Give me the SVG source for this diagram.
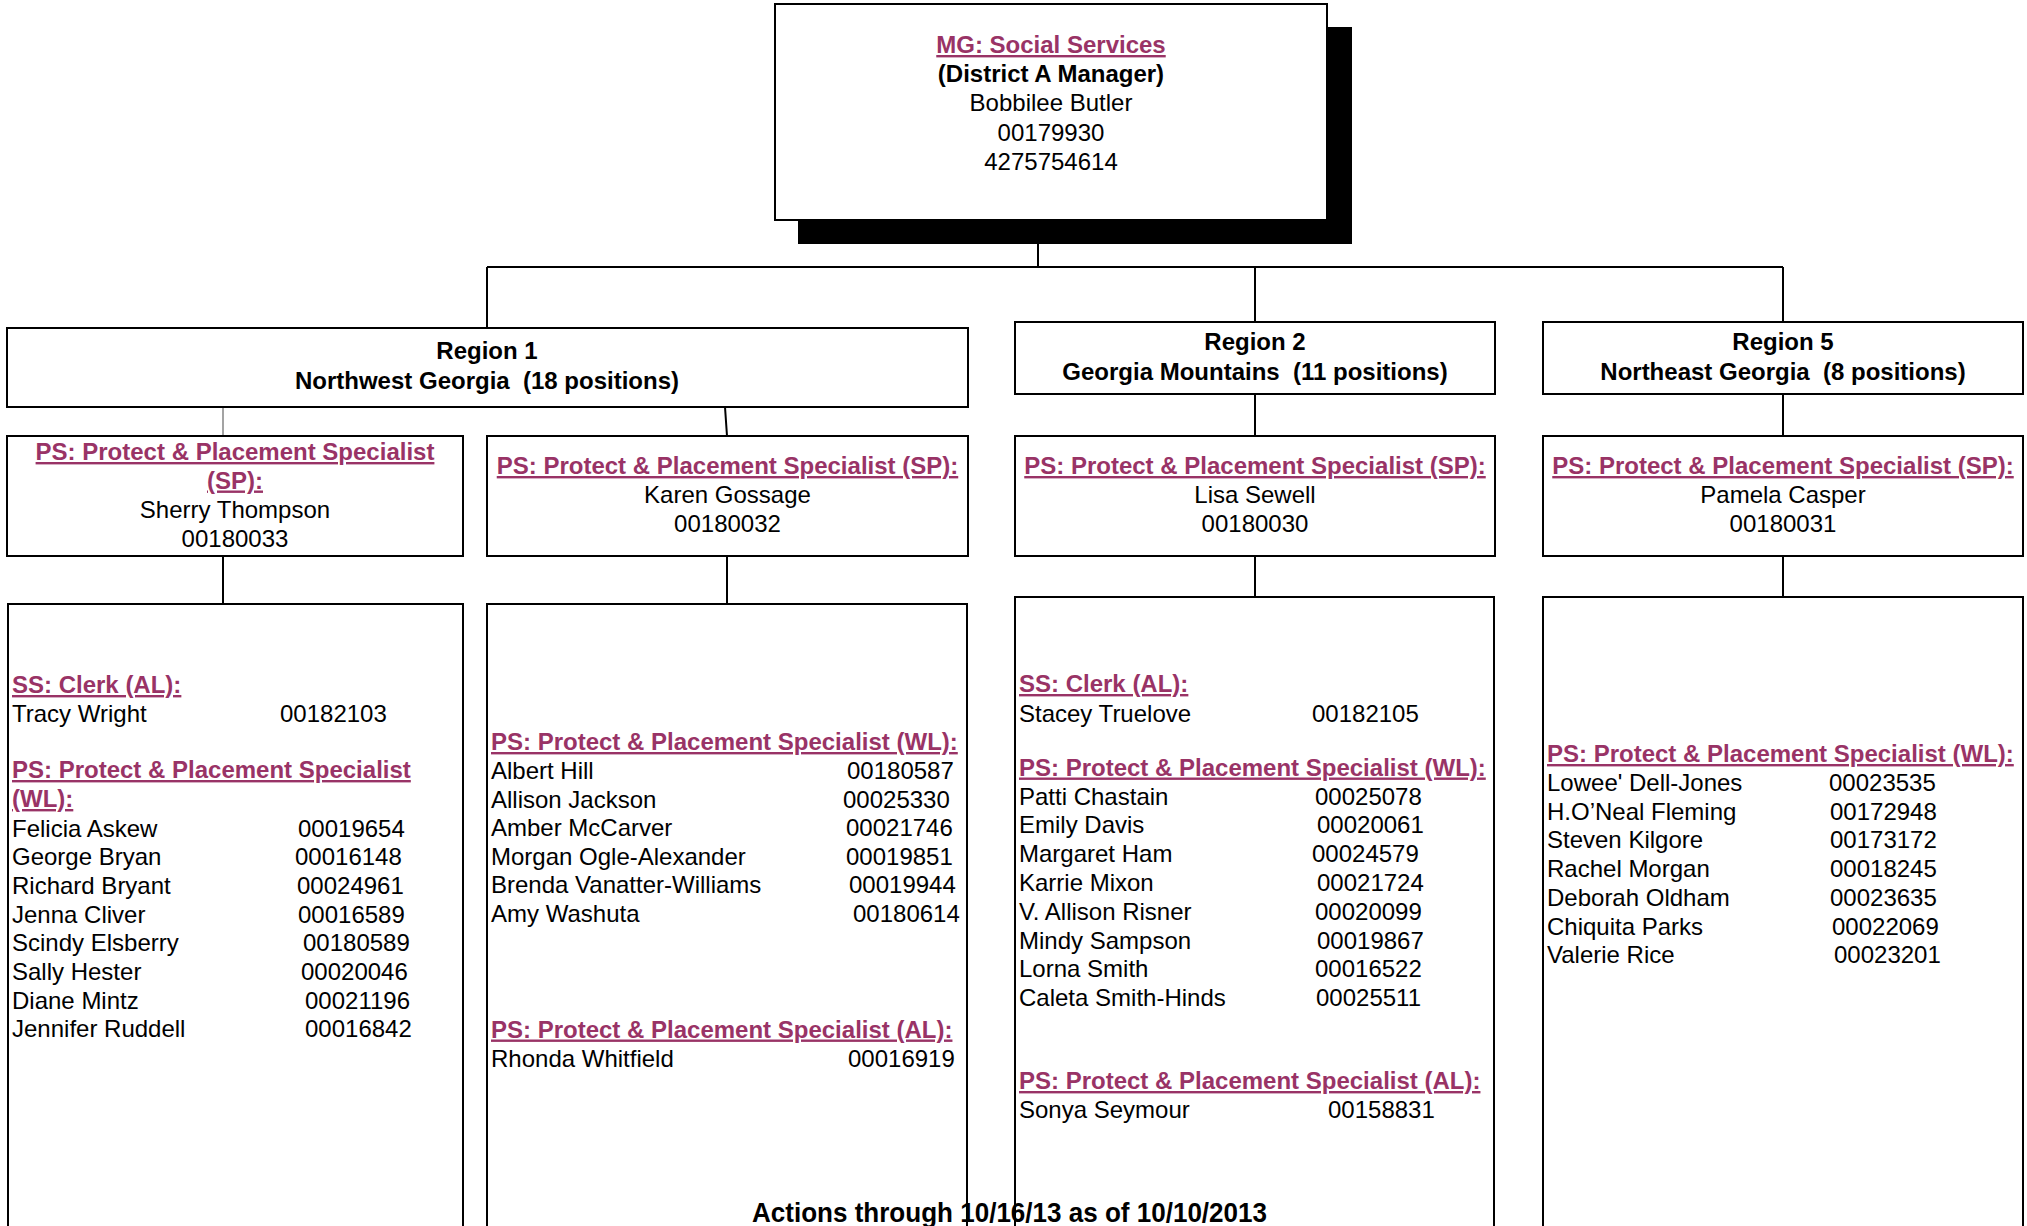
<svg xmlns="http://www.w3.org/2000/svg" width="2027" height="1226" viewBox="0 0 2027 1226">
<style>
text{font-family:"Liberation Sans",Arial,sans-serif;font-size:24px;fill:#000}
.b{font-weight:bold}
.h{font-weight:bold;fill:#993366;text-decoration:underline}
.c{text-anchor:middle}
.box{fill:#fff;stroke:#000;stroke-width:2}
.open{fill:none;stroke:#000;stroke-width:2}
.con{fill:none;stroke:#000;stroke-width:2}
</style>
<rect width="2027" height="1226" fill="#fff"/>
<g id="connectors">
<path class="con" d="M1038 244V267M487 267H1783M487 267V328M1255 267V322M1783 267V322"/>
<path d="M223 407V436" stroke="#666" stroke-width="1.2" fill="none"/>
<path class="con" d="M725 407L727 436M1255 394V436M1783 394V436"/>
<path class="con" d="M223 556V604M727 556V604M1255 556V597M1783 556V597"/>
</g>
<g id="manager">
<rect x="798" y="27" width="554" height="217" fill="#000"/>
<rect class="box" x="775" y="4" width="552" height="216"/>
<text class="h c" x="1051" y="53">MG: Social Services</text>
<text class="b c" x="1051" y="82">(District A Manager)</text>
<text class="c" x="1051" y="111">Bobbilee Butler</text>
<text class="c" x="1051" y="140.5">00179930</text>
<text class="c" x="1051" y="170">4275754614</text>
</g>
<g id="region1">
<rect class="box" x="7" y="328" width="961" height="79"/>
<text class="b c" x="487" y="359">Region 1</text>
<text class="b c" x="487" y="388.5" xml:space="preserve">Northwest Georgia  (18 positions)</text>
</g>
<g id="region2">
<rect class="box" x="1015" y="322" width="480" height="72"/>
<text class="b c" x="1255" y="350">Region 2</text>
<text class="b c" x="1255" y="379.5" xml:space="preserve">Georgia Mountains  (11 positions)</text>
</g>
<g id="region5">
<rect class="box" x="1543" y="322" width="480" height="72"/>
<text class="b c" x="1783" y="350">Region 5</text>
<text class="b c" x="1783" y="379.5" xml:space="preserve">Northeast Georgia  (8 positions)</text>
</g>
<g id="sp1">
<rect class="box" x="7" y="436" width="456" height="120"/>
<text class="h c" x="235" y="460">PS: Protect &amp; Placement Specialist</text>
<text class="h c" x="235" y="488.5">(SP):</text>
<text class="c" x="235" y="517.5">Sherry Thompson</text>
<text class="c" x="235" y="546.5">00180033</text>
</g>
<g id="sp2">
<rect class="box" x="487" y="436" width="481" height="120"/>
<text class="h c" x="727.5" y="474">PS: Protect &amp; Placement Specialist (SP):</text>
<text class="c" x="727.5" y="502.5">Karen Gossage</text>
<text class="c" x="727.5" y="532">00180032</text>
</g>
<g id="sp3">
<rect class="box" x="1015" y="436" width="480" height="120"/>
<text class="h c" x="1255" y="474">PS: Protect &amp; Placement Specialist (SP):</text>
<text class="c" x="1255" y="502.5">Lisa Sewell</text>
<text class="c" x="1255" y="532">00180030</text>
</g>
<g id="sp4">
<rect class="box" x="1543" y="436" width="480" height="120"/>
<text class="h c" x="1783" y="474">PS: Protect &amp; Placement Specialist (SP):</text>
<text class="c" x="1783" y="502.5">Pamela Casper</text>
<text class="c" x="1783" y="532">00180031</text>
</g>
<text class="b c" x="1009.5" y="1222" style="font-size:27px" textLength="515" lengthAdjust="spacingAndGlyphs">Actions through 10/16/13 as of 10/10/2013</text>
<g id="staff1">
<rect class="open" x="8" y="604" width="455" height="640"/>
<text class="h" x="12" y="693">SS: Clerk (AL):</text>
<text x="12" y="722">Tracy Wright</text><text x="280" y="722">00182103</text>
<text class="h" x="12" y="778">PS: Protect &amp; Placement Specialist</text>
<text class="h" x="12" y="807">(WL):</text>
<text x="12" y="836.5">Felicia Askew</text><text x="298" y="836.5">00019654</text>
<text x="12" y="865.2">George Bryan</text><text x="295" y="865.2">00016148</text>
<text x="12" y="893.9">Richard Bryant</text><text x="297" y="893.9">00024961</text>
<text x="12" y="922.6">Jenna Cliver</text><text x="298" y="922.6">00016589</text>
<text x="12" y="951.3">Scindy Elsberry</text><text x="303" y="951.3">00180589</text>
<text x="12" y="980">Sally Hester</text><text x="301" y="980">00020046</text>
<text x="12" y="1008.7">Diane Mintz</text><text x="305" y="1008.7">00021196</text>
<text x="12" y="1037.4">Jennifer Ruddell</text><text x="305" y="1037.4">00016842</text>
</g>
<g id="staff2">
<rect class="open" x="487" y="604" width="480" height="640"/>
<text class="h" x="491" y="750">PS: Protect &amp; Placement Specialist (WL):</text>
<text x="491" y="779">Albert Hill</text><text x="847" y="779">00180587</text>
<text x="491" y="807.6">Allison Jackson</text><text x="843" y="807.6">00025330</text>
<text x="491" y="836.2">Amber McCarver</text><text x="846" y="836.2">00021746</text>
<text x="491" y="864.8">Morgan Ogle-Alexander</text><text x="846" y="864.8">00019851</text>
<text x="491" y="893.4">Brenda Vanatter-Williams</text><text x="849" y="893.4">00019944</text>
<text x="491" y="922">Amy Washuta</text><text x="853" y="922">00180614</text>
<text class="h" x="491" y="1037.5">PS: Protect &amp; Placement Specialist (AL):</text>
<text x="491" y="1066.5">Rhonda Whitfield</text><text x="848" y="1066.5">00016919</text>
</g>
<g id="staff3">
<rect class="open" x="1015" y="597" width="479" height="647"/>
<text class="h" x="1019" y="692">SS: Clerk (AL):</text>
<text x="1019" y="721.5">Stacey Truelove</text><text x="1312" y="721.5">00182105</text>
<text class="h" x="1019" y="775.5">PS: Protect &amp; Placement Specialist (WL):</text>
<text x="1019" y="804.5">Patti Chastain</text><text x="1315" y="804.5">00025078</text>
<text x="1019" y="833.3">Emily Davis</text><text x="1317" y="833.3">00020061</text>
<text x="1019" y="862.1">Margaret Ham</text><text x="1312" y="862.1">00024579</text>
<text x="1019" y="890.9">Karrie Mixon</text><text x="1317" y="890.9">00021724</text>
<text x="1019" y="919.7">V. Allison Risner</text><text x="1315" y="919.7">00020099</text>
<text x="1019" y="948.5">Mindy Sampson</text><text x="1317" y="948.5">00019867</text>
<text x="1019" y="977.3">Lorna Smith</text><text x="1315" y="977.3">00016522</text>
<text x="1019" y="1006.1">Caleta Smith-Hinds</text><text x="1316" y="1006.1">00025511</text>
<text class="h" x="1019" y="1089">PS: Protect &amp; Placement Specialist (AL):</text>
<text x="1019" y="1118">Sonya Seymour</text><text x="1328" y="1118">00158831</text>
</g>
<g id="staff4">
<rect class="open" x="1543" y="597" width="480" height="647"/>
<text class="h" x="1547" y="762">PS: Protect &amp; Placement Specialist (WL):</text>
<text x="1547" y="791">Lowee' Dell-Jones</text><text x="1829" y="791">00023535</text>
<text x="1547" y="819.7">H.O’Neal Fleming</text><text x="1830" y="819.7">00172948</text>
<text x="1547" y="848.4">Steven Kilgore</text><text x="1830" y="848.4">00173172</text>
<text x="1547" y="877.1">Rachel Morgan</text><text x="1830" y="877.1">00018245</text>
<text x="1547" y="905.8">Deborah Oldham</text><text x="1830" y="905.8">00023635</text>
<text x="1547" y="934.5">Chiquita Parks</text><text x="1832" y="934.5">00022069</text>
<text x="1547" y="963.2">Valerie Rice</text><text x="1834" y="963.2">00023201</text>
</g>
</svg>
